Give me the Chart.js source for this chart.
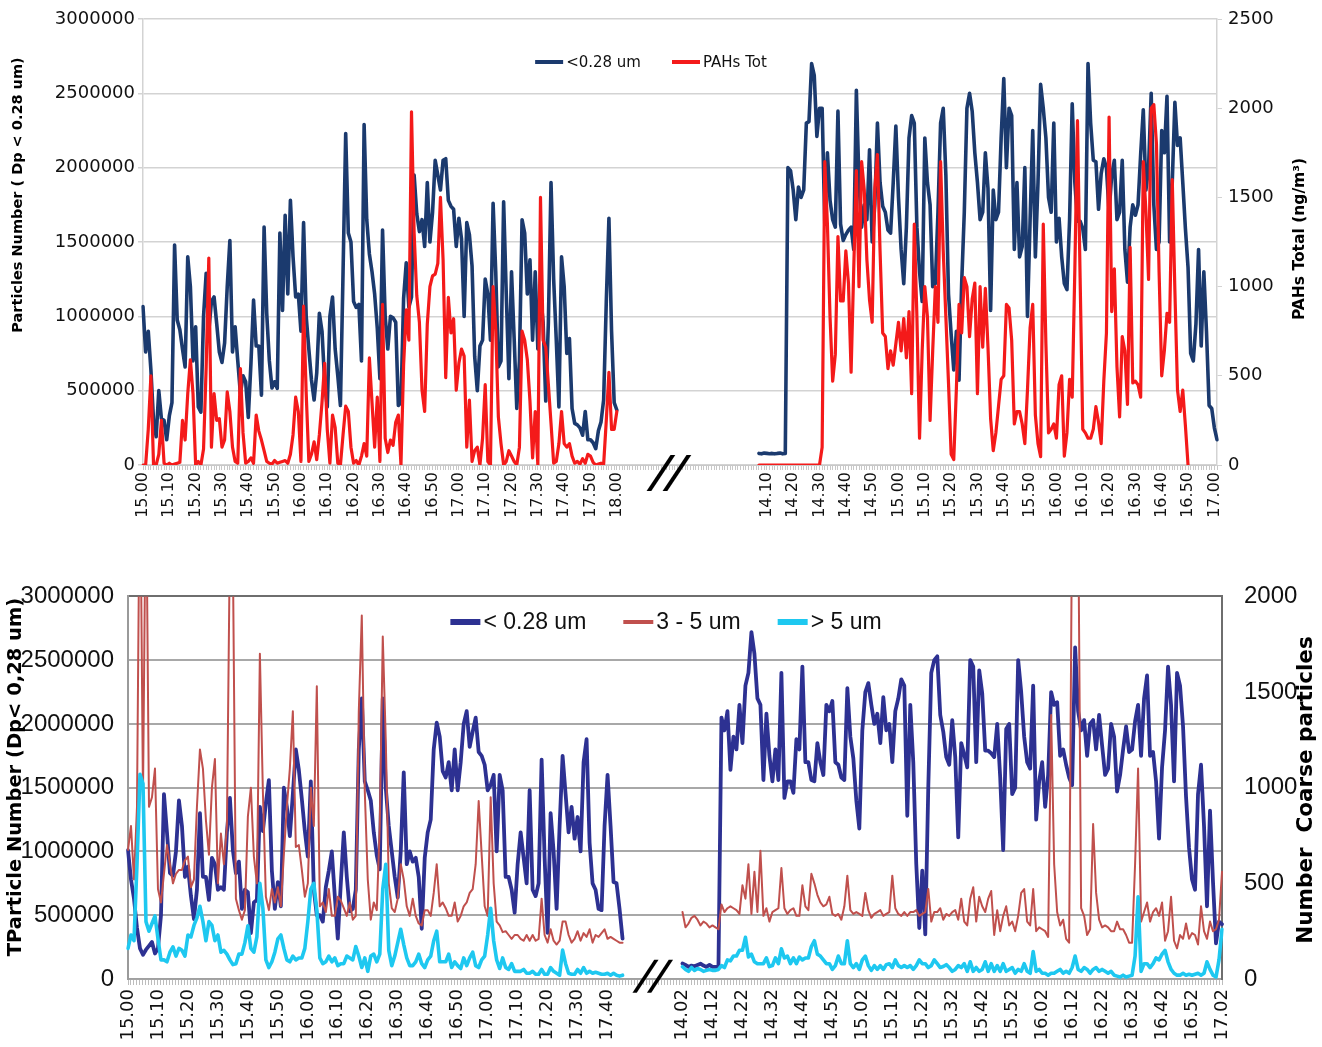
<!DOCTYPE html>
<html>
<head>
<meta charset="utf-8">
<title>Particles number and PAHs</title>
<script src="https://cdn.jsdelivr.net/npm/chart.js@4.4.1/dist/chart.umd.min.js"></script>
<style>
  html, body { margin:0; padding:0; background:#ffffff; }
  body { width:1322px; height:1047px; position:relative; overflow:hidden; }
  #topWrap { position:absolute; left:0; top:0; width:1322px; height:530px; }
  #botWrap { position:absolute; left:0; top:560px; width:1322px; height:487px; }
  canvas { display:block; }
</style>
</head>
<body>
<div id="topWrap"><canvas id="topChart" width="1322" height="530"></canvas></div>
<div id="botWrap"><canvas id="botChart" width="1322" height="487"></canvas></div>
<script>
// ================= DATA =================
// ---- top chart: tick labels ----
const topTickLabelsLeft  = ['15.00','15.10','15.20','15.30','15.40','15.50','16.00','16.10','16.20','16.30','16.40','16.50','17.00','17.10','17.20','17.30','17.40','17.50','18.00'];
const topTickLabelsRight = ['14.10','14.20','14.30','14.40','14.50','15.00','15.10','15.20','15.30','15.40','15.50','16.00','16.10','16.20','16.30','16.40','16.50','17.00'];
const topSeriesNames = ['<0.28 um', 'PAHs Tot'];

// ---- top chart: left period, one value per minute from 15.00 to 18.00 ----
const topFineLeft = [
1065000,760000,900000,640000,300000,190000,500000,310000,300000,170000,
330000,420000,1480000,975000,910000,780000,660000,1400000,1200000,700000,
930000,390000,356000,1000000,1290000,900000,1100000,1130000,950000,760000,
690000,820000,1200000,1510000,760000,930000,700000,480000,600000,560000,
320000,680000,1110000,800000,800000,470000,1600000,1020000,700000,518000,
560000,515000,1560000,1040000,1680000,1150000,1780000,1400000,1130000,1150000,
900000,1630000,1000000,780000,572000,437000,620000,1020000,900000,560000,
390000,1000000,1130000,780000,600000,400000,1300000,2230000,1560000,1500000,
1100000,1060000,1080000,700000,2290000,1650000,1420000,1300000,1150000,920000,
580000,1580000,1000000,780000,1000000,990000,960000,400000,420000,1120000,
1360000,1060000,1130000,1950000,1690000,1570000,1650000,1470000,1900000,1500000,
1700000,2050000,1950000,1850000,2050000,2060000,1780000,1740000,1720000,1470000,
1660000,1520000,1000000,1630000,1550000,1340000,730000,500000,800000,840000,
1250000,1150000,840000,1760000,1300000,660000,700000,1770000,1150000,580000,
1300000,850000,380000,700000,1650000,1560000,1150000,1380000,840000,1300000,
780000,1150000,960000,430000,960000,1900000,1250000,840000,390000,1400000,
1200000,750000,850000,380000,280000,270000,250000,200000,360000,170000,
170000,150000,110000,230000,290000,440000,1100000,1660000,900000,420000,
370000];
const topPahsLeft = [
0,0,200,500,0,0,60,250,10,0,
10,0,5,10,15,250,140,400,590,400,
0,20,0,90,550,1160,100,400,250,260,
100,140,410,300,100,20,10,540,180,10,
20,40,10,280,190,140,80,20,10,5,
25,10,15,20,25,10,60,170,380,300,
20,890,400,20,60,130,30,170,350,570,
200,10,280,210,10,0,170,330,300,100,
10,25,0,50,120,50,600,350,100,380,
20,900,150,70,140,110,240,280,0,560,
870,700,1980,1300,950,800,420,300,790,1000,
1060,1070,1130,1500,1150,490,940,740,820,420,
570,650,610,100,364,20,80,100,0,150,
450,20,0,1000,760,270,120,0,20,80,
50,20,0,100,750,700,590,360,40,300,
0,1500,700,660,450,234,10,20,120,300,
120,100,120,50,10,20,5,35,10,60,
50,15,0,5,10,5,250,520,200,200,
300];

// ---- top chart: right period, one value per minute from 14.07 to 17.01 ----
const topFineRight = [
78000,75000,80000,78000,76000,78000,75000,78000,80000,75000,
78000,2000000,1980000,1850000,1650000,1870000,1800000,1850000,2300000,2310000,
2700000,2620000,2210000,2400000,2400000,1620000,2100000,1780000,1650000,1600000,
2380000,1620000,1510000,1550000,1580000,1600000,1450000,2520000,1900000,1600000,
1750000,1650000,2120000,1500000,1750000,2300000,1900000,1740000,1700000,1580000,
1560000,1900000,2280000,1800000,1450000,1220000,1600000,2200000,2350000,2300000,
1600000,1300000,1100000,2200000,1900000,1750000,1200000,1220000,1700000,2300000,
2400000,1950000,1150000,880000,640000,900000,570000,1220000,1700000,2400000,
2500000,2380000,2100000,1900000,1650000,1700000,2100000,1860000,1040000,1850000,
1650000,1700000,2200000,2600000,2000000,2400000,2350000,1450000,1900000,1400000,
1470000,2000000,1000000,1650000,2250000,1400000,1900000,2560000,2400000,2200000,
1800000,1700000,2300000,1500000,1660000,1400000,1220000,1180000,1650000,2430000,
1900000,1640000,1640000,1590000,1450000,2700000,2300000,2050000,2040000,1720000,
1960000,2060000,2000000,1700000,1950000,2050000,1650000,1700000,2050000,1450000,
1230000,1600000,1750000,1680000,1750000,2090000,2390000,1850000,2000000,2500000,
1750000,1450000,1500000,2250000,2100000,2480000,1500000,1900000,2440000,2150000,
2200000,1900000,1590000,1330000,750000,700000,950000,1450000,800000,1300000,
900000,400000,380000,250000,170000];
const topPahsRight = [
0,0,0,0,0,0,0,0,0,0,
0,0,0,0,0,0,0,0,0,0,
0,0,0,0,100,1700,1350,830,470,620,
1280,920,920,1200,1020,520,1100,1650,1000,1700,
1540,1150,925,800,1550,1740,1200,740,720,540,
640,560,680,800,640,820,600,860,400,1350,
830,150,640,1000,830,250,640,1000,800,1700,
1200,830,460,60,30,430,900,740,1050,1000,
720,930,1020,400,1000,660,990,660,260,80,
180,330,480,500,900,880,700,230,300,300,
230,120,420,770,900,280,120,47,1350,680,
180,200,230,150,450,500,50,180,480,380,
1100,1930,1050,200,180,150,150,200,327,240,
120,470,740,1950,860,1100,550,270,720,640,
340,1220,460,470,450,380,1700,1420,1040,2000,
2020,1800,1080,500,640,850,800,1600,980,420,
300,420,220,0,null,null,null,null,null,null,
null,null,null,null,null];

// ---- bottom chart: tick labels ----
const botTickLabelsLeft  = ['15.00','15.10','15.20','15.30','15.40','15.50','16.00','16.10','16.20','16.30','16.40','16.50','17.00','17.10','17.20','17.30','17.40'];
const botTickLabelsRight = ['14.02','14.12','14.22','14.32','14.42','14.52','15.02','15.12','15.22','15.32','15.42','15.52','16.02','16.12','16.22','16.32','16.42','16.52','17.02'];
const botSeriesNames = ['< 0.28 um', '3 - 5 um', '> 5 um'];

// ---- bottom chart: left period, one value per minute from 15.00 to 17.45 ----
const botFineLeft = [
1010000,780000,630000,400000,240000,190000,230000,260000,290000,200000,
240000,500000,1450000,1150000,830000,810000,1000000,1400000,1200000,800000,
880000,650000,470000,700000,1300000,800000,800000,620000,950000,900000,
700000,720000,700000,1150000,1420000,1010000,830000,920000,550000,700000,
680000,360000,600000,620000,1350000,1160000,1380000,1560000,850000,550000,
760000,570000,1500000,1350000,1120000,1450000,1800000,1640000,1410000,1160000,
960000,1550000,700000,500000,500000,450000,720000,850000,1000000,650000,
317000,750000,1150000,800000,530000,550000,700000,1800000,2200000,1550000,
1480000,1400000,1150000,970000,860000,2200000,1500000,1200000,1000000,800000,
640000,1000000,1620000,900000,1000000,920000,950000,800000,394000,950000,
1150000,1250000,1800000,2010000,1900000,1630000,1580000,1700000,1480000,1800000,
1480000,1700000,2000000,2100000,1820000,1940000,2050000,1780000,1750000,1680000,
1480000,1520000,1600000,1000000,1600000,1480000,800000,800000,700000,520000,
900000,1150000,950000,750000,1480000,700000,650000,750000,1720000,950000,
361000,1300000,1000000,550000,1200000,1750000,1450000,1150000,1350000,1100000,
1270000,1000000,1700000,1880000,1070000,750000,700000,550000,540000,1200000,
1600000,1200000,760000,750000,550000,317000];
const botMidLeft = [
675,800,520,900,2800,950,2700,900,950,1100,
470,400,550,700,600,500,550,570,570,620,
640,480,520,900,1200,1100,830,650,1000,1150,
500,760,600,800,2300,2200,420,360,310,360,
850,1000,640,500,1700,980,430,360,470,400,
480,380,650,900,1100,1400,690,700,570,430,
500,1000,800,1530,380,400,350,470,330,330,
430,410,370,330,400,310,330,1400,1900,980,
520,310,400,360,800,1790,1250,500,370,350,
420,600,520,380,330,420,330,290,280,360,
360,330,450,600,380,400,370,330,330,400,
300,330,380,400,450,470,600,930,650,380,
330,950,500,300,280,245,250,230,210,230,
230,210,200,230,200,230,200,210,420,230,
190,260,200,180,200,300,300,230,190,210,
250,200,240,220,260,190,230,220,240,260,
210,220,210,200,190,190];
const botCoarseLeft = [
160,230,200,600,1070,1020,300,250,290,330,
210,100,100,90,140,168,120,160,150,120,
230,220,280,320,380,300,200,300,280,200,
230,140,150,130,100,75,80,130,130,190,
278,160,140,220,500,370,100,60,90,140,
210,230,160,100,90,120,100,110,110,160,
300,470,500,360,110,80,90,120,90,110,
70,80,80,120,110,100,170,120,60,110,
40,120,130,90,130,470,600,150,70,120,
190,260,180,110,70,70,90,130,80,60,
100,120,200,250,90,90,90,130,60,90,
70,55,110,70,110,140,70,60,100,120,
230,370,200,100,55,110,60,50,80,40,
40,40,50,30,30,40,25,25,50,25,
25,60,40,30,20,151,80,30,25,25,
50,30,60,30,40,30,35,30,25,25,
30,20,30,20,15,20];

// ---- bottom chart: right period, one value per minute from 14.02 to 17.02 ----
const botFineRight = [
121000,110000,95000,105000,100000,110000,120000,105000,95000,110000,
95000,95000,95000,2050000,1950000,2100000,1640000,1900000,1800000,2150000,
1850000,2300000,2400000,2720000,2550000,2200000,2150000,1560000,2080000,1750000,
1550000,1800000,1560000,2400000,1420000,1550000,1550000,1460000,1880000,1800000,
2450000,1700000,1700000,1560000,1550000,1850000,1700000,1600000,2150000,2100000,
2180000,1700000,1680000,1580000,1560000,2280000,1900000,1730000,1400000,1180000,
1950000,2250000,2320000,2150000,2000000,2080000,1850000,2210000,1950000,2000000,
1700000,2100000,2200000,2350000,2300000,1280000,2150000,1700000,900000,400000,
850000,350000,1500000,2400000,2500000,2530000,2070000,1940000,1740000,1680000,
2030000,1740000,1110000,1850000,1760000,1660000,2500000,2450000,1700000,2420000,
2240000,1790000,1790000,1770000,1740000,2000000,1580000,1010000,1960000,2000000,
1450000,1500000,2500000,2250000,1900000,1700000,1650000,2300000,1250000,1550000,
1700000,1350000,1600000,2250000,2150000,2170000,1750000,1800000,1680000,1580000,
1520000,2600000,2100000,1950000,2030000,1750000,2000000,2030000,1800000,2070000,
1830000,1600000,1650000,2000000,1900000,1470000,1600000,1800000,1980000,1780000,
1800000,2020000,2150000,1750000,2200000,2380000,1750000,1780000,1550000,1100000,
1660000,1950000,2450000,2150000,1550000,2400000,2300000,1980000,1430000,1030000,
780000,700000,1450000,1680000,1200000,570000,1320000,760000,280000,450000,
430000];
const botMidRight = [
350,270,290,320,330,310,280,300,290,270,
280,270,260,390,350,370,380,370,360,340,
490,420,600,340,560,350,670,330,370,300,
350,360,370,580,370,340,360,370,330,330,
490,380,360,550,500,440,400,380,390,430,
340,330,340,310,380,540,360,340,350,340,
330,450,360,320,340,350,360,330,340,350,
540,370,340,330,350,330,350,350,360,330,
340,350,470,300,350,350,370,310,340,330,
350,360,310,420,300,280,420,480,300,430,
380,350,420,460,230,360,250,330,380,280,
300,250,330,450,470,300,280,470,250,270,
260,250,220,1380,600,350,280,310,210,190,
2500,2600,2500,370,330,230,260,810,450,310,
270,280,270,250,250,300,260,260,230,190,
190,600,1100,300,350,400,300,350,370,330,
400,200,250,430,200,160,230,210,290,210,
240,230,180,380,250,210,300,250,260,310,
560];
const botCoarseRight = [
64,50,40,60,45,55,50,40,45,50,
45,45,50,70,60,100,95,120,120,150,
150,218,115,130,90,80,80,80,110,65,
70,110,80,158,110,120,80,110,80,115,
100,110,110,170,200,130,120,100,80,80,
50,70,120,80,80,200,80,60,80,50,
100,120,70,45,70,50,70,50,75,80,
60,100,70,60,70,60,70,50,70,100,
80,80,60,70,100,80,60,65,75,60,
40,50,70,60,80,40,90,40,60,40,
50,90,40,80,40,70,40,80,40,50,
60,30,50,40,80,40,30,144,40,50,
30,30,20,30,30,40,50,30,40,30,
60,120,50,40,60,50,30,50,60,40,
50,40,30,40,20,15,10,20,10,15,
20,120,430,40,80,80,60,80,110,100,
130,150,90,50,30,20,20,30,20,25,
20,25,30,20,30,90,50,20,10,100,
260];

// gap (number of empty minute slots) between the two periods on each axis
const TOP_GAP = 53;
const BOT_GAP = 19;

// ================= helpers =================
function minuteLabels(h, m, count) {
  const out = [];
  for (let i = 0; i < count; i++) {
    const t = h * 60 + m + i;
    out.push(Math.floor(t / 60) + '.' + String(t % 60).padStart(2, '0'));
  }
  return out;
}
function joinSegments(left, gap, right) {
  return [...left, ...Array(gap).fill(null), ...right];
}
function tickCallback(cats, leftLen, gap, leftTicks, rightTicks) {
  return function (value, index) {
    const lab = cats[index];
    if (index < leftLen) return leftTicks.includes(lab) ? lab : '';
    if (index >= leftLen + gap) return rightTicks.includes(lab) ? lab : '';
    return '';
  };
}

const topCategories = [...minuteLabels(15, 0, topFineLeft.length), ...Array(TOP_GAP).fill(''), ...minuteLabels(14, 7, topFineRight.length)];
const botCategories = [...minuteLabels(15, 0, botFineLeft.length), ...Array(BOT_GAP).fill(''), ...minuteLabels(14, 2, botFineRight.length)];

// ================= plugins (titles, legend, axis break) =================
const axisTitles = {
  id: 'axisTitles',
  afterDraw(chart, args, o) {
    const ctx = chart.ctx;
    (o.items || []).forEach(it => {
      ctx.save();
      ctx.translate(it.x, it.y);
      ctx.rotate(-Math.PI / 2);
      ctx.font = it.font;
      ctx.fillStyle = it.color || '#000';
      ctx.textAlign = 'center';
      ctx.textBaseline = 'middle';
      ctx.fillText(it.text, 0, 0);
      ctx.restore();
    });
  }
};
const lineLegend = {
  id: 'lineLegend',
  afterDraw(chart, args, o) {
    const ctx = chart.ctx;
    ctx.save();
    ctx.font = o.font;
    ctx.textBaseline = 'middle';
    ctx.textAlign = 'left';
    const ds = chart.data.datasets;
    const widths = ds.map(d => o.lineLen + o.gap + ctx.measureText(d.label).width);
    const total = widths.reduce((a, b) => a + b, 0) + o.spacing * (ds.length - 1);
    let x = o.centerX - total / 2;
    ds.forEach((d, i) => {
      ctx.strokeStyle = d.borderColor;
      ctx.lineWidth = o.lineWidths[i];
      ctx.lineCap = 'butt';
      ctx.beginPath();
      ctx.moveTo(x, o.y);
      ctx.lineTo(x + o.lineLen, o.y);
      ctx.stroke();
      ctx.fillStyle = o.color;
      ctx.fillText(d.label, x + o.lineLen + o.gap, o.y + 1);
      x += widths[i] + o.spacing;
    });
    ctx.restore();
  }
};
const axisBreak = {
  id: 'axisBreak',
  afterDraw(chart, args, o) {
    const ctx = chart.ctx;
    ctx.save();
    ctx.translate(o.x, o.y);
    ctx.transform(1, 0, -o.skew, 1, 0, 0);
    ctx.font = o.font;
    ctx.fillStyle = '#000';
    ctx.textAlign = 'center';
    ctx.textBaseline = 'middle';
    ctx.fillText('//', 0, 0);
    ctx.restore();
  }
};

const plain = v => String(v);
const DJ = "'DejaVu Sans', sans-serif";
const NARROW = "'Liberation Sans Narrow', 'Arial Narrow', 'Liberation Sans', sans-serif";

// ================= TOP CHART =================
new Chart(document.getElementById('topChart'), {
  type: 'line',
  data: {
    labels: topCategories,
    datasets: [
      { label: topSeriesNames[0], data: joinSegments(topFineLeft, TOP_GAP, topFineRight),
        borderColor: '#1b3a6e', backgroundColor: '#1b3a6e', borderWidth: 3.6, yAxisID: 'yL', order: 2 },
      { label: topSeriesNames[1], data: joinSegments(topPahsLeft, TOP_GAP, topPahsRight),
        borderColor: '#f41a1a', backgroundColor: '#f41a1a', borderWidth: 3.2, yAxisID: 'yR', order: 1 }
    ]
  },
  options: {
    responsive: false, devicePixelRatio: 1, animation: false, events: [],
    layout: { padding: { left: 0, right: 0, top: 19, bottom: 0 } },
    elements: { point: { radius: 0 }, line: { tension: 0, borderJoinStyle: 'round', borderCapStyle: 'round', spanGaps: false } },
    plugins: {
      legend: { display: false }, tooltip: { enabled: false },
      axisTitles: { items: [
        { text: 'Particles Number ( Dp < 0.28 um)', x: 18, y: 195, font: 'bold 14.5px ' + DJ },
        { text: 'PAHs Total (ng/m\u00B3)', x: 1300, y: 239, font: 'bold 15.5px ' + DJ }
      ] },
      lineLegend: { font: '15px ' + DJ, color: '#111', y: 62, centerX: 651, lineLen: 28, gap: 3, spacing: 31, lineWidths: [4, 4] },
      axisBreak: { x: 668, y: 476, skew: 0.35, font: 'bold 44px ' + DJ }
    },
    scales: {
      x: {
        type: 'category', offset: false,
        grid: { drawOnChartArea: false, drawTicks: true, tickLength: 5, color: '#c8c8c8', lineWidth: 1 },
        border: { display: true, color: '#c8c8c8', width: 1 },
        ticks: { autoSkip: false, maxRotation: 90, minRotation: 90, padding: 2, color: '#111',
                 font: { size: 16, family: DJ },
                 callback: tickCallback(topCategories, topFineLeft.length, TOP_GAP, topTickLabelsLeft, topTickLabelsRight) },
        afterFit: s => { s.height = 65; }
      },
      yL: {
        position: 'left', min: 0, max: 3000000,
        ticks: { stepSize: 500000, padding: 3, color: '#111', font: { size: 18, family: DJ }, callback: plain },
        grid: { color: '#d3d3d3', lineWidth: 1.5, tickLength: 5 },
        border: { display: true, color: '#d3d3d3', width: 1.5 },
        afterFit: s => { s.width = 143; }
      },
      yR: {
        position: 'right', min: 0, max: 2500,
        ticks: { stepSize: 500, padding: 6, color: '#111', font: { size: 18, family: DJ }, callback: plain },
        grid: { drawOnChartArea: false, color: '#d3d3d3', tickLength: 5 },
        border: { display: true, color: '#d3d3d3', width: 1.5 },
        afterFit: s => { s.width = 105; }
      }
    }
  },
  plugins: [axisTitles, lineLegend, axisBreak]
});

// ================= BOTTOM CHART =================
new Chart(document.getElementById('botChart'), {
  type: 'line',
  data: {
    labels: botCategories,
    datasets: [
      { label: botSeriesNames[0], data: joinSegments(botFineLeft, BOT_GAP, botFineRight),
        borderColor: '#2d3192', backgroundColor: '#2d3192', borderWidth: 3.8, yAxisID: 'yL', order: 3 },
      { label: botSeriesNames[1], data: joinSegments(botMidLeft, BOT_GAP, botMidRight),
        borderColor: '#c0504d', backgroundColor: '#c0504d', borderWidth: 2, yAxisID: 'yR', order: 2 },
      { label: botSeriesNames[2], data: joinSegments(botCoarseLeft, BOT_GAP, botCoarseRight),
        borderColor: '#1ec8f0', backgroundColor: '#1ec8f0', borderWidth: 3.6, yAxisID: 'yR', order: 1 }
    ]
  },
  options: {
    responsive: false, devicePixelRatio: 1, animation: false, events: [],
    layout: { padding: { left: 0, right: 0, top: 31, bottom: 0 } },
    elements: { point: { radius: 0 }, line: { tension: 0, borderJoinStyle: 'round', borderCapStyle: 'round', spanGaps: false } },
    plugins: {
      legend: { display: false }, tooltip: { enabled: false },
      axisTitles: { items: [
        { text: 'TParticle Number (Dp< 0,28 um)', x: 16, y: 217, font: 'bold 19.5px ' + DJ },
        { text: 'Number  Coarse particles', x: 1306, y: 230, font: 'bold 21.5px ' + DJ }
      ] },
      lineLegend: { font: '23px ' + NARROW, color: '#111', y: 62, centerX: 666, lineLen: 30, gap: 3, spacing: 37, lineWidths: [6, 4, 6] },
      axisBreak: { x: 652, y: 419, skew: 0.35, font: 'bold 40px ' + DJ }
    },
    scales: {
      x: {
        type: 'category', offset: false,
        grid: { drawOnChartArea: false, drawTicks: true, tickLength: 6, color: '#bdbdbd', lineWidth: 1 },
        border: { display: true, color: '#a0a0a0', width: 1.5 },
        ticks: { autoSkip: false, maxRotation: 90, minRotation: 90, padding: 4, color: '#111',
                 font: { size: 18, family: DJ },
                 callback: tickCallback(botCategories, botFineLeft.length, BOT_GAP, botTickLabelsLeft, botTickLabelsRight) },
        afterFit: s => { s.height = 68; }
      },
      yL: {
        position: 'left', min: 0, max: 3000000,
        ticks: { stepSize: 500000, padding: 14, color: '#111', font: { size: 24, family: NARROW }, callback: plain },
        grid: { drawTicks: false, lineWidth: 2, color: ctx => (ctx.tick && ctx.tick.value === 3000000) ? '#6e6e6e' : '#a8a8a8' },
        border: { display: true, color: '#9a9a9a', width: 2 },
        afterFit: s => { s.width = 128; }
      },
      yR: {
        position: 'right', min: 0, max: 2000,
        ticks: { stepSize: 500, padding: 22, color: '#111', font: { size: 24, family: NARROW }, callback: plain },
        grid: { drawOnChartArea: false, drawTicks: false },
        border: { display: true, color: '#6e6e6e', width: 2 },
        afterFit: s => { s.width = 100; }
      }
    }
  },
  plugins: [axisTitles, lineLegend, axisBreak]
});
</script>
</body>
</html>
